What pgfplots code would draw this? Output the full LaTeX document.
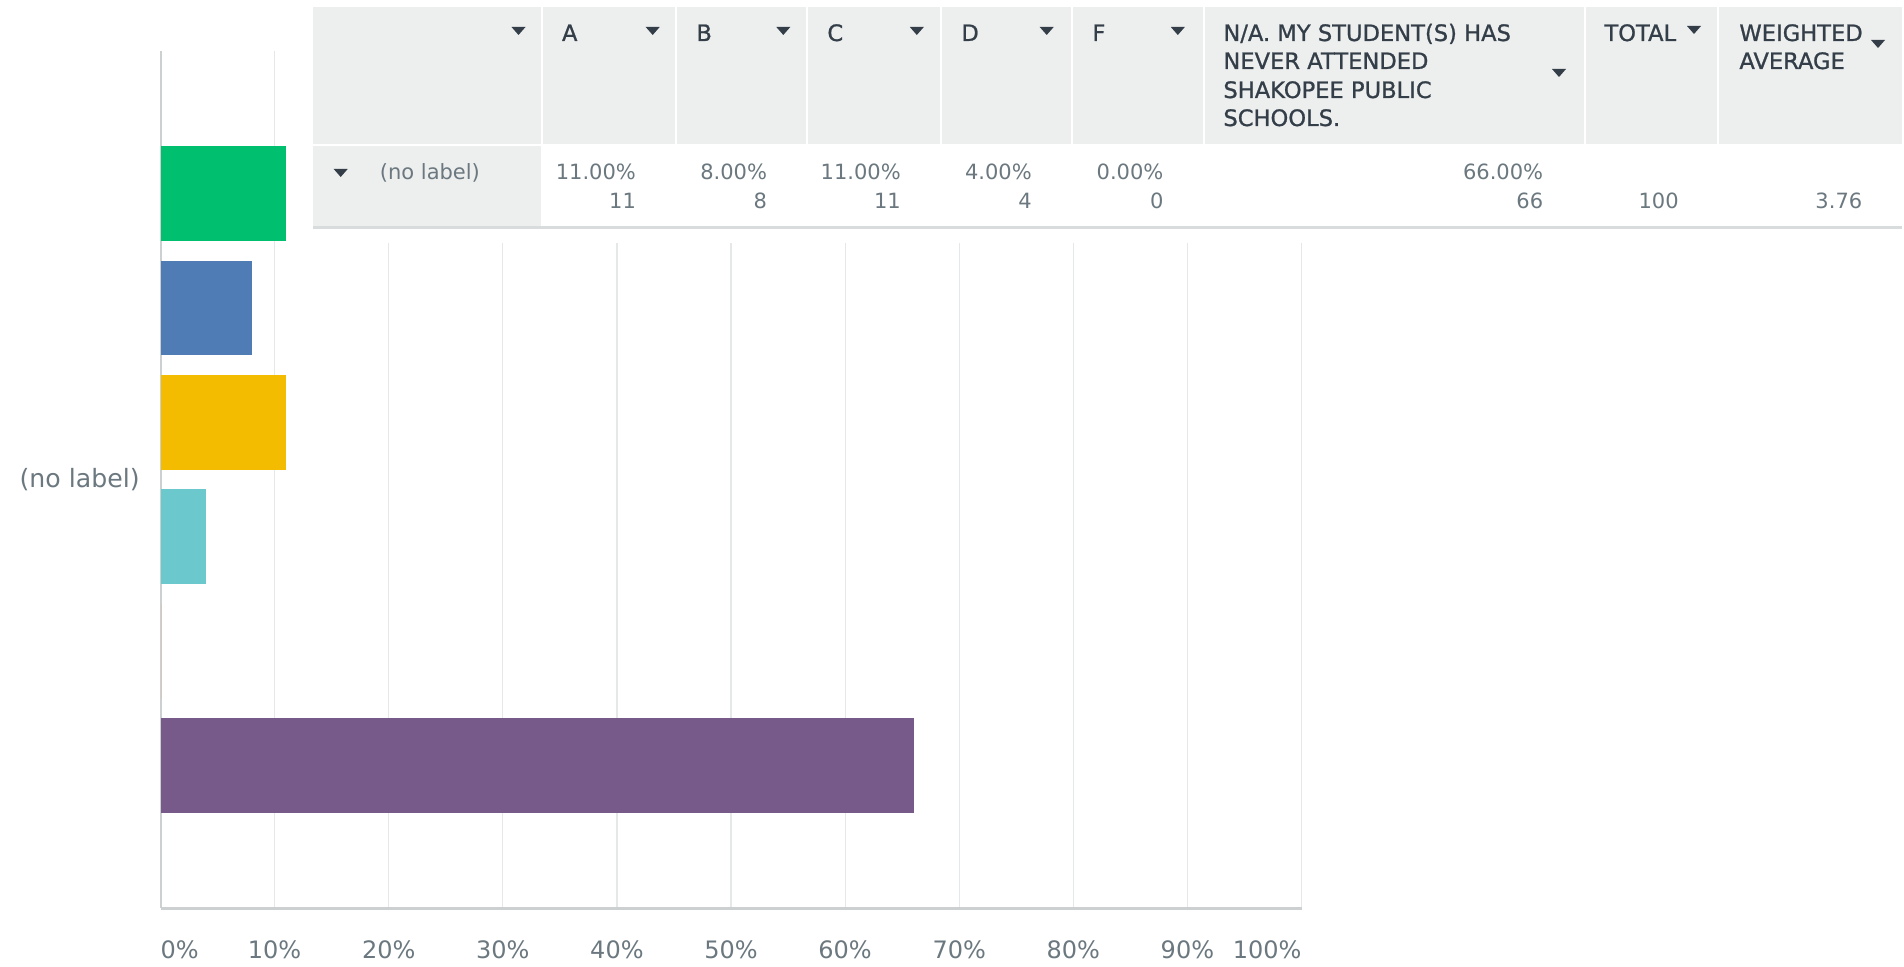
\documentclass[border=0pt]{standalone}
\usepackage{pgfplots}
\pgfplotsset{compat=1.18}
\usepackage{fontspec}
\setmainfont{DejaVu Sans}
\newfontfamily\hdrfont{DejaVu Sans}[FakeBold=1.0]
\definecolor{smgreen}{HTML}{00BF6F}
\definecolor{smblue}{HTML}{507CB6}
\definecolor{smyellow}{HTML}{F4BC00}
\definecolor{smteal}{HTML}{6BC8CD}
\definecolor{smorange}{HTML}{FF8B4F}
\definecolor{smpurple}{HTML}{785A8A}
\definecolor{gridc}{HTML}{E4E8E9}
\definecolor{axisc}{HTML}{CDD0D1}
\definecolor{hdrbg}{HTML}{EDEEEE}
\definecolor{hdrtext}{HTML}{333E48}
\definecolor{celltext}{HTML}{6B787F}
\definecolor{rowline}{HTML}{D9DCDD}
\begin{document}
\begin{tikzpicture}
\begin{scope}[x=0.5pt,y=-0.5pt,yshift=483pt]
\path[use as bounding box] (0,0) rectangle (1904,966);
\end{scope}
\begin{axis}[
  at={(80.25pt,29pt)}, anchor=south west,
  scale only axis, width=570.5pt, height=428.5pt,
  xmin=0, xmax=100, ymin=-0.245, ymax=7.245,
  axis x line=bottom, axis y line=left,
  x axis line style={draw=axisc, line width=1.5pt, -},
  y axis line style={draw=axisc, line width=1pt, -},
  xtick={0,10,...,100},
  xticklabels={\rlap{0\%},10\%,20\%,30\%,40\%,50\%,60\%,70\%,80\%,90\%,\llap{100\%}},
  ytick={3.5}, yticklabels={(no label)},
  major tick length=0pt,
  xmajorgrids, grid style={draw=gridc, line width=0.6pt},
  tick label style={font=\fontsize{12}{14}\selectfont, text=celltext, inner sep=0pt},
  xticklabel style={anchor=north, yshift=-16pt},
  yticklabel style={anchor=east, xshift=-10.25pt, font=\fontsize{12.6}{14}\selectfont},
]
\addplot[xbar, bar width=0.828, bar shift=0pt, fill=smgreen, draw=none] coordinates {(11,6)};
\addplot[xbar, bar width=0.828, bar shift=0pt, fill=smblue, draw=none] coordinates {(8,5)};
\addplot[xbar, bar width=0.828, bar shift=0pt, fill=smyellow, draw=none] coordinates {(11,4)};
\addplot[xbar, bar width=0.828, bar shift=0pt, fill=smteal, draw=none] coordinates {(4,3)};
\addplot[xbar, bar width=0.828, bar shift=0pt, fill=smorange, draw=none] coordinates {(0,2)};
\addplot[xbar, bar width=0.828, bar shift=0pt, fill=smpurple, draw=none] coordinates {(66,1)};
\end{axis}
\begin{scope}[x=0.5pt,y=-0.5pt,yshift=483pt]
\fill[white] (313,0) rectangle (1904,243);
\fill[hdrbg] (313,7) rectangle (1902,144);
\foreach \cx in {541.6,676.3,807.2,941.2,1072.2,1203.8,1584.7,1718.3}
  \fill[white] ({\cx-1},7) rectangle ({\cx+1},144);
\fill[hdrbg] (313,146) rectangle (540.6,226);
\fill[rowline] (313,226) rectangle (1902,229);
% header arrows
\foreach \ax/\ay in {518.5/31,652.7/31,783.3/31,916.8/31,1046.7/31,1177.8/31,1559/73,1694/30,1878/44,340.7/173}
  \fill[hdrtext] ({\ax-7},{\ay-4}) -- ({\ax+7},{\ay-4}) -- (\ax,{\ay+4}) -- cycle;
% header texts
\begin{scope}[every node/.style={inner sep=0pt, anchor=base west, text=hdrtext, font=\hdrfont\fontsize{11.3}{13}\selectfont}]
\node at (561.6,41) {A};
\node at (696,41) {B};
\node at (827,41) {C};
\node at (961,41) {D};
\node at (1092,41) {F};
\node at (1223,41) {N/A. MY STUDENT(S) HAS};
\node at (1223,69) {NEVER ATTENDED};
\node at (1223,98) {SHAKOPEE PUBLIC};
\node at (1223,126) {SCHOOLS.};
\node at (1604,41) {TOTAL};
\node at (1739,41) {WEIGHTED};
\node at (1739,69) {AVERAGE};
\end{scope}
% row texts
\begin{scope}[every node/.style={inner sep=0pt, anchor=base east, text=celltext, font=\fontsize{10.5}{12}\selectfont}]
\node[anchor=base west] at (379.5,180) {(no label)};
\node at (636.3,180) {11.00\%};
\node at (636.3,209) {11};
\node at (767.4,180) {8.00\%};
\node at (767.4,209) {8};
\node at (901.2,180) {11.00\%};
\node at (901.2,209) {11};
\node at (1032.2,180) {4.00\%};
\node at (1032.2,209) {4};
\node at (1163.8,180) {0.00\%};
\node at (1163.8,209) {0};
\node at (1543.5,180) {66.00\%};
\node at (1543.5,209) {66};
\node at (1679,209) {100};
\node at (1862.6,209) {3.76};
\end{scope}
\end{scope}
\end{tikzpicture}
\end{document}
